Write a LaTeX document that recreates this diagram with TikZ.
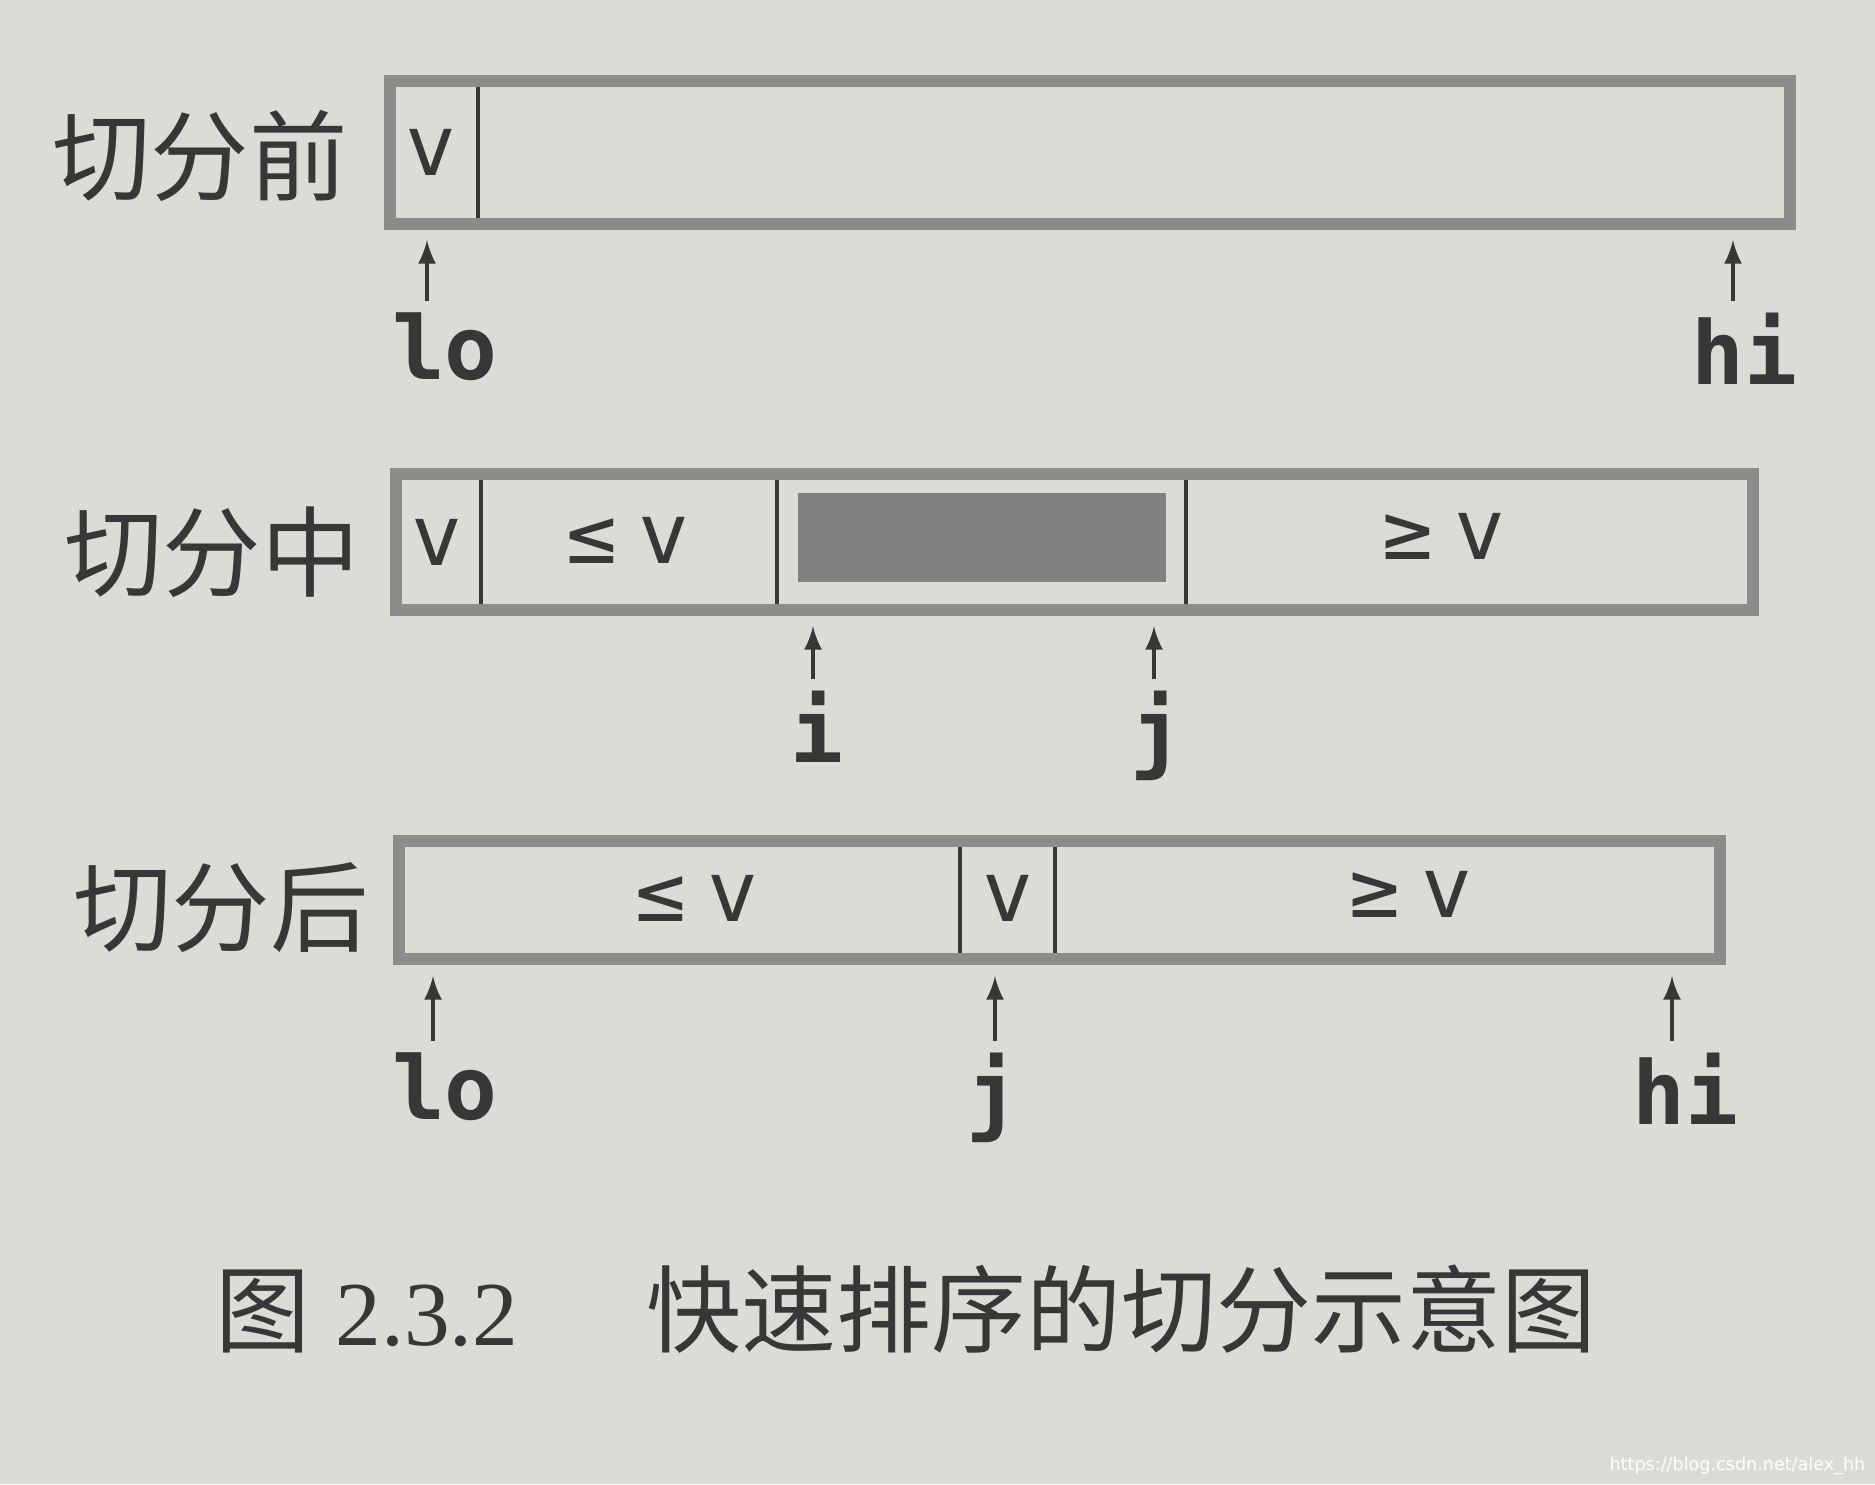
\documentclass[tikz,border=0pt]{standalone}
\usepackage{fontspec}
\setmainfont{Liberation Serif}
\newfontfamily\cjk{Noto Sans CJK SC}
\newfontfamily\mono{DejaVu Sans Mono}
\newfontfamily\wmark{DejaVu Sans}
\definecolor{paper}{RGB}{221,219,214}
\definecolor{ink}{RGB}{55,55,55}

\begin{document}
\begin{tikzpicture}[x=0.01cm,y=-0.01cm,
    frame/.style={draw=black!45,line width=3.6pt},
    bar/.style={draw=ink,line width=1.3pt},
    cell/.style={font=\mono\fontsize{24}{24}\selectfont,text=ink,inner sep=0pt},
    ptr/.style={font=\mono\bfseries\fontsize{25}{25}\selectfont,text=ink,inner sep=0pt,anchor=north},
    tag/.style={font=\cjk\fontsize{28}{28}\selectfont,text=ink,inner sep=0pt},
    uparrow/.style={-latex,draw=ink,line width=1.3pt,shorten <=3pt}]
        \fill[paper] (0,0) rectangle (1875,1484);
        \foreach \x in {478}
        \draw[bar] (\x,81) -- (\x,224);
        \draw[frame] (390,81) rectangle (1790,224);
        \node[tag] (pre) at (200,156) {切分前};
        \node[cell] (v1) at (431,152) {v};
        \node[ptr] (lo1) at (445,312) {lo};
        \node[ptr] (hi1) at (1744,312) {hi};
        \coordinate (lo1tip) at (427,240);
        \coordinate (hi1tip) at (1733,240);
        \draw[uparrow] (lo1tip |- lo1.north) -- (lo1tip);
        \draw[uparrow] (hi1tip |- hi1.north) -- (hi1tip);
        \fill[black!50] (798,493) rectangle (1166,582);
        \foreach \x in {481,777,1186}
        \draw[bar] (\x,474) -- (\x,610);
        \draw[frame] (396,474) rectangle (1753,610);
        \node[tag] (mid) at (212,552) {切分中};
        \node[cell] (v2) at (437,542) {v};
        \node[cell] (le2) at (628,540) {≤\kern0.25em v};
        \node[cell] (ge2) at (1444,536) {≥\kern0.25em v};
        \node[ptr] (i2) at (817,690) {i};
        \node[ptr] (j2) at (1157,690) {j};
        \coordinate (i2tip) at (813,626);
        \coordinate (j2tip) at (1154,626);
        \draw[uparrow] (i2tip |- i2.north) -- (i2tip);
        \draw[uparrow] (j2tip |- j2.north) -- (j2tip);
        \foreach \x in {960,1055}
        \draw[bar] (\x,841) -- (\x,959);
        \draw[frame] (399,841) rectangle (1720,959);
        \node[tag] (post) at (221,908) {切分后};
        \node[cell] (le3) at (697,898) {≤\kern0.25em v};
        \node[cell] (v3) at (1008,898) {v};
        \node[cell] (ge3) at (1411,894) {≥\kern0.25em v};
        \node[ptr] (lo3) at (445,1052) {lo};
        \node[ptr] (j3) at (993,1052) {j};
        \node[ptr] (hi3) at (1685,1052) {hi};
        \coordinate (lo3tip) at (433,976);
        \coordinate (j3tip) at (995,976);
        \coordinate (hi3tip) at (1672,976);
        \draw[uparrow] (lo3tip |- lo3.north) -- (lo3tip);
        \draw[uparrow] (j3tip |- j3.north) -- (j3tip);
        \draw[uparrow] (hi3tip |- hi3.north) -- (hi3tip);
        \node[font=\cjk\fontsize{27}{27}\selectfont,text=ink,inner sep=0pt,anchor=base west] (fig) at (215,1345) {图};
        \node[font=\fontsize{26}{26}\selectfont,text=ink,inner sep=0pt,anchor=base west] (num) at (335,1345) {2.3.2};
        \node[font=\cjk\fontsize{27}{27}\selectfont,text=ink,inner sep=0pt,anchor=base west] (cap) at (646,1345) {快速排序的切分示意图};
        \node[font=\wmark\fontsize{5}{5}\selectfont,text=white,inner sep=0pt,anchor=base east] (url) at (1866,1470) {https://blog.csdn.net/alex\_hh};
        \end{tikzpicture}
\end{document}
